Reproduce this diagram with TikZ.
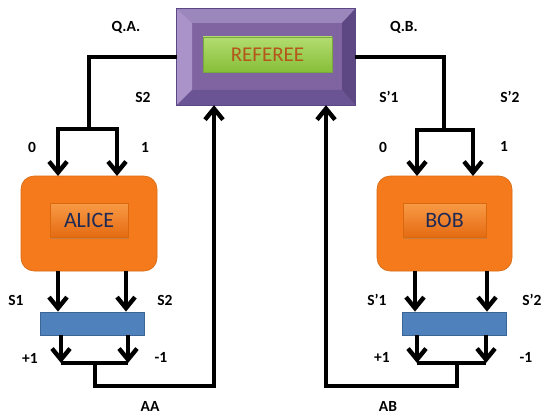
\documentclass[tikz,border=0pt]{standalone}
\usepackage{fontspec}
\setmainfont{Carlito}
\usetikzlibrary{arrows.meta,calc,shadows}
\definecolor{purpface}{HTML}{8064A2}
\definecolor{purptop}{HTML}{9C87BD}
\definecolor{purpleft}{HTML}{A993C8}
\definecolor{purpright}{HTML}{5D4884}
\definecolor{purpbot}{HTML}{6B5494}
\definecolor{purpline}{HTML}{5A4786}
\definecolor{greentop}{HTML}{B2DC70}
\definecolor{greenbot}{HTML}{86BE38}
\definecolor{greenline}{HTML}{78A83C}
\definecolor{reftext}{HTML}{B5561A}
\definecolor{orangebox}{HTML}{F47A1C}
\definecolor{orangeline}{HTML}{D9690F}
\definecolor{btntop}{HTML}{F99A45}
\definecolor{btnbot}{HTML}{E56B12}
\definecolor{navytext}{HTML}{1F2A55}
\definecolor{bluebox}{HTML}{4F81BD}
\definecolor{blueline}{HTML}{3A6595}
\begin{document}
\begin{tikzpicture}[x=1pt,y=-1pt,
  wire/.style={line width=4.4pt},
  arr/.style={wire,-{Straight Barb[length=11pt,width=18pt]}},
  lbl/.style={font=\bfseries\fontsize{15.5}{15.5}\selectfont,text=black,inner sep=0pt},
  bigbox/.style={rounded corners=13pt,fill=orangebox,draw=orangeline,line width=0.6pt,minimum height=95pt,inner sep=0pt},
  obtn/.style={top color=btntop,bottom color=btnbot,draw=orangeline,line width=0.6pt,minimum height=34pt,inner sep=0pt,
    text=navytext,font=\fontsize{22}{22}\selectfont,drop shadow={opacity=0.35,shadow xshift=1pt,shadow yshift=-1.5pt}},
  bluerect/.style={fill=bluebox,draw=blueline,line width=0.8pt,minimum width=104pt,minimum height=23pt,inner sep=0pt}]
\useasboundingbox (0,0) rectangle (545,417);

% Referee
\node[fill=purpface,minimum width=178pt,minimum height=96pt,inner sep=0pt] (referee) at (266,57) {};
\coordinate (ri1) at (192,23);
\coordinate (ri2) at (342,23);
\coordinate (ri3) at (342,90);
\coordinate (ri4) at (192,90);
\fill[purptop] (referee.north west) -- (referee.north east) -- (ri2) -- (ri1) -- cycle;
\fill[purpleft] (referee.north west) -- (ri1) -- (ri4) -- (referee.south west) -- cycle;
\fill[purpright] (referee.north east) -- (referee.south east) -- (ri3) -- (ri2) -- cycle;
\fill[purpbot] (referee.south west) -- (ri4) -- (ri3) -- (referee.south east) -- cycle;
\draw[purpline,line width=0.8pt] (referee.north west) rectangle (referee.south east);
\node[top color=greentop,bottom color=greenbot,draw=greenline,line width=0.6pt,minimum width=129pt,minimum height=35pt,inner sep=0pt,
  text=reftext,font=\fontsize{21}{21}\selectfont,drop shadow={opacity=0.35,shadow xshift=1pt,shadow yshift=-1.5pt}] (refbtn) at (267.5,54.5) {REFEREE};

% Alice and Bob
\node[bigbox,minimum width=136pt] (alice) at (89,223.5) {};
\node[obtn,minimum width=78pt] (alicebtn) at (89,220) {ALICE};
\node[bigbox,minimum width=135pt] (bob) at (444.5,223.5) {};
\node[obtn,minimum width=83pt] (bobbtn) at (444.5,220) {BOB};

% measuring boxes
\node[bluerect] (blueA) at (92,323.5) {};
\node[bluerect] (blueB) at (454,323.5) {};

% Alice side wires
\coordinate (asplit) at (89,129);
\coordinate (a0) at (58,176);
\coordinate (a1) at (117,176);
\draw[wire] (referee.west) -| (asplit);
\draw[arr] (asplit) -| (a0);
\draw[arr] (asplit) -| (a1);
\coordinate (ao1) at (58,271);
\coordinate (ao2) at (126,271);
\draw[arr] (ao1) -- (ao1 |- blueA.north);
\draw[arr] (ao2) -- (ao2 |- blueA.north);
\coordinate (am1) at (61,363);
\coordinate (am2) at (128,363);
\draw[arr] (am1 |- blueA.south) -- (am1);
\draw[arr] (am2 |- blueA.south) -- (am2);
\draw[wire] (am1) -- (am2);
\coordinate (ajoin) at (95,363);
\coordinate (aup) at (214,386);
\draw[arr] (ajoin) |- (aup) -- (aup |- referee.south);

% Bob side wires
\coordinate (bsplit) at (444,130);
\coordinate (b0) at (417,176);
\coordinate (b1) at (473,176);
\draw[wire] (referee.east) -| (bsplit);
\draw[arr] (bsplit) -| (b0);
\draw[arr] (bsplit) -| (b1);
\coordinate (bo1) at (415,271);
\coordinate (bo2) at (487,271);
\draw[arr] (bo1) -- (bo1 |- blueB.north);
\draw[arr] (bo2) -- (bo2 |- blueB.north);
\coordinate (bm1) at (417,363);
\coordinate (bm2) at (486,363);
\draw[arr] (bm1 |- blueB.south) -- (bm1);
\draw[arr] (bm2 |- blueB.south) -- (bm2);
\draw[wire] (bm1) -- (bm2);
\coordinate (bjoin) at (457,363);
\coordinate (bup) at (326,386);
\draw[arr] (bjoin) |- (bup) -- (bup |- referee.south);

% Labels
\node[lbl] (lqa) at (126,27) {Q.A.};
\node[lbl] (lqb) at (404,27) {Q.B.};
\node[lbl] (ls2t) at (143,97) {S2};
\node[lbl] (lsp1t) at (389,97) {S’1};
\node[lbl] (lsp2t) at (510,97) {S’2};
\node[lbl] (la0) at (32,147) {0};
\node[lbl] (la1) at (145,147) {1};
\node[lbl] (lb0) at (383,147) {0};
\node[lbl] (lb1) at (504,146) {1};
\node[lbl] (ls1) at (16,300) {S1};
\node[lbl] (ls2) at (165,300) {S2};
\node[lbl] (lap) at (30,358) {+1};
\node[lbl] (lam) at (161,357) {-1};
\node[lbl] (laa) at (150,406) {AA};
\node[lbl] (lsp1) at (377,300) {S’1};
\node[lbl] (lsp2) at (532,300) {S’2};
\node[lbl] (lbp) at (382,357) {+1};
\node[lbl] (lbm) at (526,357) {-1};
\node[lbl] (lab) at (388,406) {AB};
\end{tikzpicture}
\end{document}
